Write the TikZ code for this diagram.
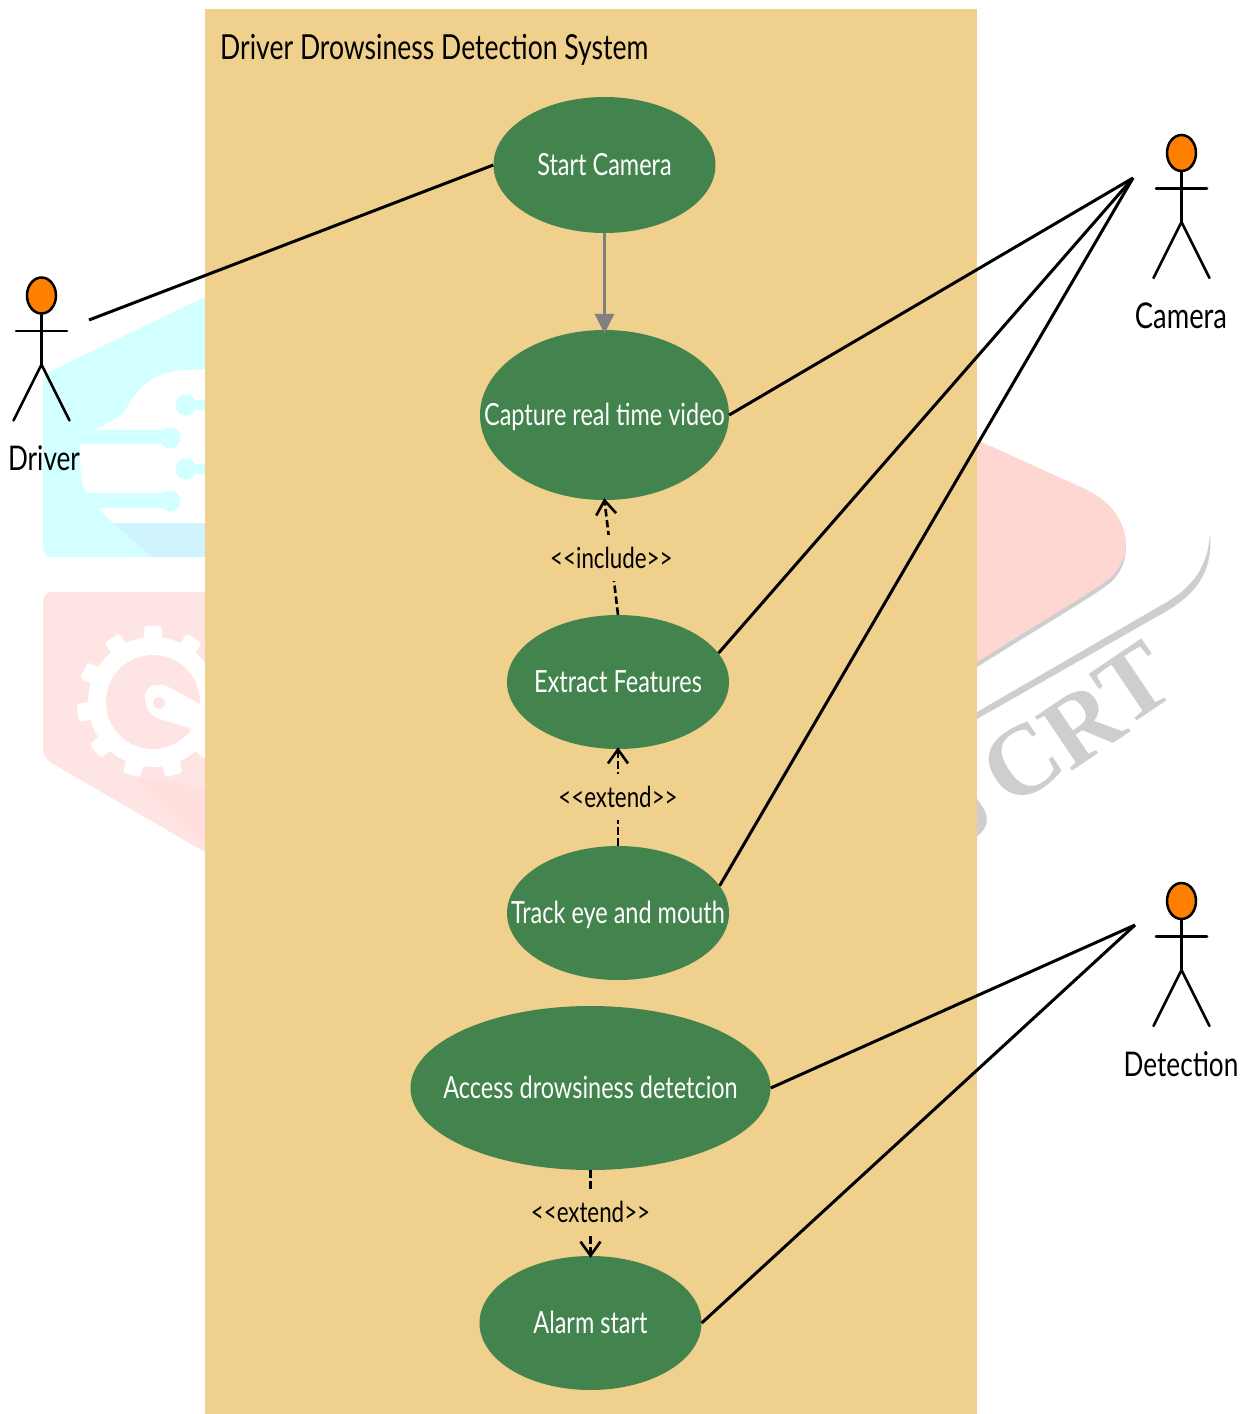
\documentclass[tikz,border=0pt]{standalone}
\usepackage{fontspec}
\setmainfont{Lato}
\newfontfamily\wmfont{Liberation Serif}
\newfontfamily\labfont[FakeStretch=0.77]{Lato}
\usetikzlibrary{arrows.meta,shapes.geometric}
\definecolor{panel}{HTML}{EFD08C}
\definecolor{ucgreen}{HTML}{43834D}
\definecolor{headorange}{HTML}{FF7F00}
\definecolor{wmcyan}{HTML}{D2FFFF}
\definecolor{wmcyanb}{HTML}{D0F4FF}
\definecolor{wmpink}{HTML}{FFE4E4}
\definecolor{wmpinkb}{HTML}{FFD7D2}
\definecolor{wmgray}{HTML}{CECECE}
\tikzset{
  x=1pt,y=-1pt,
  usecase/.style={ellipse,draw=none,fill=ucgreen,text=white,inner sep=0pt,font=\labfont\fontsize{30.5}{32}\selectfont},
  assoc/.style={line width=3pt,black},
  stick/.style={line width=2.5pt,black,line cap=round},
  deplabel/.style={fill=panel,inner sep=0pt,minimum height=46pt,yshift=1pt,text=black,font=\labfont\fontsize{29}{30}\selectfont},
  dep/.style={line width=2.6pt,black,dash pattern=on 7.5pt off 3.5pt,shorten >=-2pt,-{Straight Barb[length=14pt,width=20pt,line width=2.6pt]}},
  actorlabel/.style={text=black,inner sep=0pt,font=\labfont\fontsize{34}{36}\selectfont},
  headnode/.style={ellipse,draw=black,line width=2.5pt,fill=headorange,minimum width=29pt,minimum height=36pt,inner sep=0pt},
  wmletter/.style={text=wmgray,rotate=34,inner sep=0pt,font=\wmfont\bfseries\fontsize{100}{100}\selectfont}
}
\newcommand{\uctext}[1]{\makebox[0pt][c]{\raisebox{-10pt}[0pt][0pt]{#1}}}
\newcommand{\actorfig}[3]{%
  \node[headnode] (#1head) at (#2,#3) {};
  \coordinate (#1hip) at (#2,#3+69);
  \coordinate (#1arml) at (#2-25.5,#3+35.5);
  \coordinate (#1armr) at (#2+25.5,#3+35.5);
  \coordinate (#1legl) at (#2-28,#3+125);
  \coordinate (#1legr) at (#2+28,#3+125);
  \draw[stick] (#1head.south) -- (#1hip);
  \draw[stick] (#1arml) -- (#1armr);
  \draw[stick] (#1legl) -- (#1hip) -- (#1legr);
}
\begin{document}
\begin{tikzpicture}
\useasboundingbox (0,0) rectangle (1246,1414);
% --- watermark, left
\fill[wmcyan,rounded corners=9pt] (43,375) -- (215,292) -- (215,557) -- (43,557) -- cycle;
\fill[wmcyanb] (113,523) -- (152,557) -- (215,557) -- (215,523) -- cycle;
\fill[white] (95,430) .. controls (112,421) and (122,416) .. (127,408) .. controls (135,392) and (150,372) .. (185,370) -- (215,369) -- (215,523) -- (113,523) -- (98,508) -- (175,508) -- (175,493) -- (90,493) .. controls (82,493) and (80,475) .. (80,450) -- (80,444) -- (170,444) -- (170,430) -- cycle;
\fill[wmcyan] (170,438) circle[radius=10.5] (170,501) circle[radius=10.5] (186,405) circle[radius=10.5] (186,469) circle[radius=10.5];
\fill[wmcyan] (186,400) rectangle (215,410) (186,464) rectangle (215,474);
\fill[wmpink,rounded corners=9pt] (43,592) -- (215,592) -- (215,858) -- (43,758) -- cycle;
\fill[wmpinkb,opacity=.25] (130,775) -- (215,858) -- (215,790) -- cycle;
\fill[white] (153,702) circle[radius=65];
\foreach \a in {0,32.7,...,359}{\fill[white,rounded corners=3pt,rotate around={\a:(153,702)}] (144,702) rectangle (162,626);}
\fill[wmpink] (153,702) circle[radius=47];
\fill[white,rounded corners=8pt] (145,688) -- (161,683) -- (215,712) -- (215,745) -- (190,728) -- (153,717) -- (145,705) -- cycle;
\fill[wmpink] (159,703) circle[radius=6];
% --- watermark, right
\fill[wmgray] (977,445) -- (1085,494) .. controls (1125,512) and (1140,555) .. (1110,583) .. controls (1095,595) and (1060,615) .. (977,667) -- cycle;
\fill[wmpinkb] (977,440) -- (1085,489) .. controls (1125,507) and (1140,550) .. (1110,578) .. controls (1095,590) and (1060,610) .. (977,662) -- cycle;
\fill[wmgray] (977,712) -- (1160,606) .. controls (1195,587) and (1208,565) .. (1210,533) .. controls (1213,568) and (1200,592) .. (1165,612) -- (977,719) -- cycle;
\node[wmletter] (wmj) at (964,806) {J};
\node[wmletter] (wmc) at (1022,762) {C};
\node[wmletter] (wmr) at (1082,725) {R};
\node[wmletter] (wmt) at (1134,684) {T};
% --- system panel
\fill[panel] (205,9) rectangle (977,1414);
\node[anchor=west,inner sep=0pt,text=black,font=\labfont\fontsize{34.5}{36}\selectfont] (title) at (220,50) {Driver Drowsiness Detection System};
% --- use cases
\node[usecase,minimum width=222pt,minimum height=136pt] (start) at (604.5,165) {\uctext{Start Camera}};
\node[usecase,minimum width=249pt,minimum height=170pt] (capture) at (604.5,415) {\uctext{Capture real time video}};
\node[usecase,minimum width=222pt,minimum height=134pt] (extract) at (618,682) {\uctext{Extract Features}};
\node[usecase,minimum width=222pt,minimum height=134pt] (track) at (618,913) {\uctext{Track eye and mouth}};
\node[usecase,minimum width=360pt,minimum height=164pt] (access) at (590.5,1088) {\uctext{Access drowsiness detetcion}};
\node[usecase,minimum width=222pt,minimum height=134pt] (alarm) at (590.5,1323) {\uctext{Alarm start}};
% --- actors
\actorfig{driver}{41.5}{295.5}
\actorfig{camera}{1181.5}{153}
\actorfig{detection}{1181.5}{901}
\node[actorlabel] (driverlabel) at (44,458) {Driver};
\node[actorlabel,font=\labfont\fontsize{35.5}{36}\selectfont] (cameralabel) at (1181,316) {Camera};
\node[actorlabel] (detectionlabel) at (1181,1064) {Detection};
\coordinate (driverend) at (89,320);
\coordinate (cameraend) at (1133,178);
\coordinate (detectionend) at (1135,925);
% --- associations
\draw[assoc] (driverend) -- (start.west);
\draw[assoc] (cameraend) -- (capture.east);
\draw[assoc] (cameraend) -- (extract.16);
\draw[assoc] (cameraend) -- (track.15.5);
\draw[assoc] (detectionend) -- (access.east);
\draw[assoc] (detectionend) -- (alarm.east);
% --- flow and dependencies
\draw[line width=3.3pt,color=gray,shorten >=-4pt,-{Triangle[length=20pt,width=19pt]}] (start.south) -- (capture.north);
\draw[dep] (extract.north) -- (capture.south) node[deplabel,pos=.49] (lbl1) {<<include>>};
\draw[dep] (track.north) -- (extract.south) node[deplabel,pos=.5] (lbl2) {<<extend>>};
\draw[dep] (access.south) -- (alarm.north) node[deplabel,pos=.5] (lbl3) {<<extend>>};
\end{tikzpicture}
\end{document}
